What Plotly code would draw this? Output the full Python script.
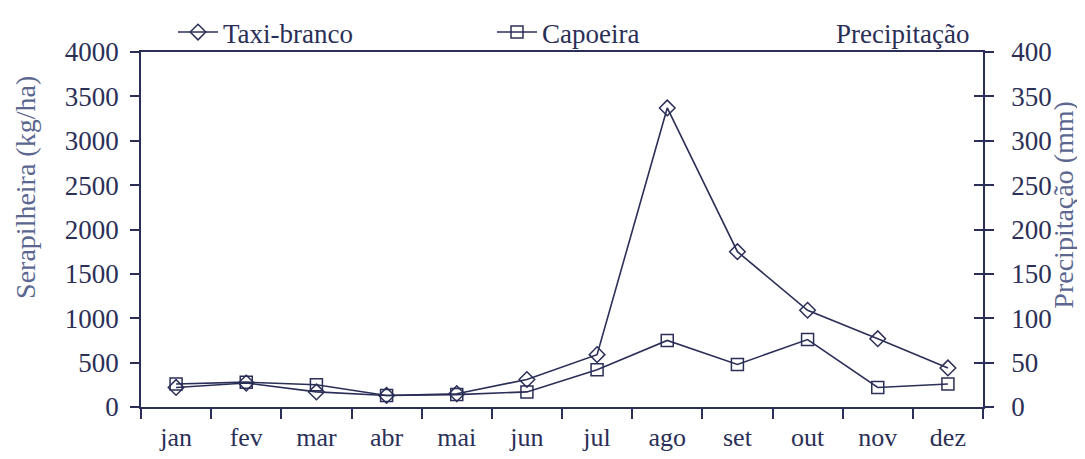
import plotly.graph_objects as go

months = ["jan", "fev", "mar", "abr", "mai", "jun", "jul", "ago", "set", "out", "nov", "dez"]
taxi_branco = [220, 270, 170, 130, 150, 310, 590, 3370, 1750, 1090, 770, 440]
capoeira = [260, 280, 250, 130, 140, 170, 420, 750, 480, 760, 220, 260]
precipitacao = [None] * 12

left_ticks = [0, 500, 1000, 1500, 2000, 2500, 3000, 3500, 4000]
right_ticks = [0, 50, 100, 150, 200, 250, 300, 350, 400]

left_title = "Serapilheira (kg/ha)"
right_title = "Precipitação (mm)"

ink = "#2b2f57"
title_col = "#5b6790"
font_family = "Liberation Serif, Times New Roman, serif"

x = list(range(len(months)))

fig = go.Figure()
fig.add_trace(go.Scatter(
    x=x, y=taxi_branco, name="Taxi-branco", mode="lines+markers",
    line=dict(color=ink, width=1.6),
    marker=dict(symbol="diamond-open", size=12, color=ink, line=dict(width=1.5, color=ink)),
    legend="legend",
))
fig.add_trace(go.Scatter(
    x=x, y=capoeira, name="Capoeira", mode="lines+markers",
    line=dict(color=ink, width=1.6),
    marker=dict(symbol="square-open", size=12, color=ink, line=dict(width=1.5, color=ink)),
    legend="legend",
))
fig.add_trace(go.Bar(
    x=x, y=precipitacao, name="Precipitação", yaxis="y2",
    marker=dict(color="rgba(255,255,255,0)", line=dict(width=0)),
    legend="legend2",
))

legend_common = dict(
    orientation="h", xref="container", yref="container",
    xanchor="left", yanchor="top", y=1.0,
    font=dict(family=font_family, size=27, color=ink), bgcolor="rgba(0,0,0,0)",
    traceorder="normal", itemwidth=40,
)

fig.update_layout(
    width=1085, height=459,
    paper_bgcolor="white", plot_bgcolor="white",
    margin=dict(l=133, r=110, t=44, b=60, autoexpand=False),
    font=dict(family=font_family, size=26, color=ink),
    showlegend=True,
    legend=dict(x=165 / 1085, entrywidth=264, entrywidthmode="pixels", **legend_common),
    legend2=dict(x=778 / 1085, **legend_common),
    xaxis=dict(
        range=[-0.5, 11.5], tickmode="array", tickvals=x, ticktext=months,
        ticks="", showgrid=False, zeroline=False,
        showline=True, linecolor=ink, linewidth=1.5, mirror=True,
        ticklabelstandoff=6,
        minor=dict(tickmode="array", tickvals=[i + 0.5 for i in range(-1, 12)],
                   ticks="outside", ticklen=10, tickwidth=1.5, tickcolor=ink, showgrid=False),
        tickfont=dict(family=font_family, size=26, color=ink),
    ),
    yaxis=dict(
        range=[0, 4000], tickmode="array", tickvals=left_ticks,
        ticks="outside", ticklen=9, tickwidth=1.5, tickcolor=ink,
        showgrid=False, zeroline=False,
        showline=True, linecolor=ink, linewidth=1.5,
        ticklabelstandoff=6,
        tickfont=dict(family=font_family, size=27, color=ink),
    ),
    yaxis2=dict(
        range=[0, 400], overlaying="y", side="right", anchor="x",
        tickmode="array", tickvals=right_ticks,
        ticks="outside", ticklen=9, tickwidth=1.5, tickcolor=ink,
        showgrid=False, zeroline=False,
        showline=True, linecolor=ink, linewidth=1.5,
        ticklabelstandoff=12,
        tickfont=dict(family=font_family, size=27, color=ink),
    ),
    yaxis3=dict(
        range=[0, 400], overlaying="y", side="right", anchor="x",
        tickmode="array", tickvals=right_ticks,
        ticks="inside", ticklen=9, tickwidth=1.5, tickcolor=ink,
        showticklabels=False, showgrid=False, zeroline=False, showline=False,
    ),
    annotations=[
        dict(text=left_title, textangle=-90, xref="paper", yref="paper",
             x=(18 - 133) / 842, y=0.62, xanchor="center", yanchor="middle", showarrow=False,
             font=dict(family=font_family, size=28, color=title_col)),
        dict(text=right_title, textangle=-90, xref="paper", yref="paper",
             x=(1056 - 133) / 842, y=0.57, xanchor="center", yanchor="middle", showarrow=False,
             font=dict(family=font_family, size=28, color=title_col)),
    ],
)

# dummy reference so yaxis3 is rendered
fig.add_trace(go.Scatter(x=[None], y=[None], yaxis="y3", showlegend=False, hoverinfo="skip"))

fig.write_html("out.html")
